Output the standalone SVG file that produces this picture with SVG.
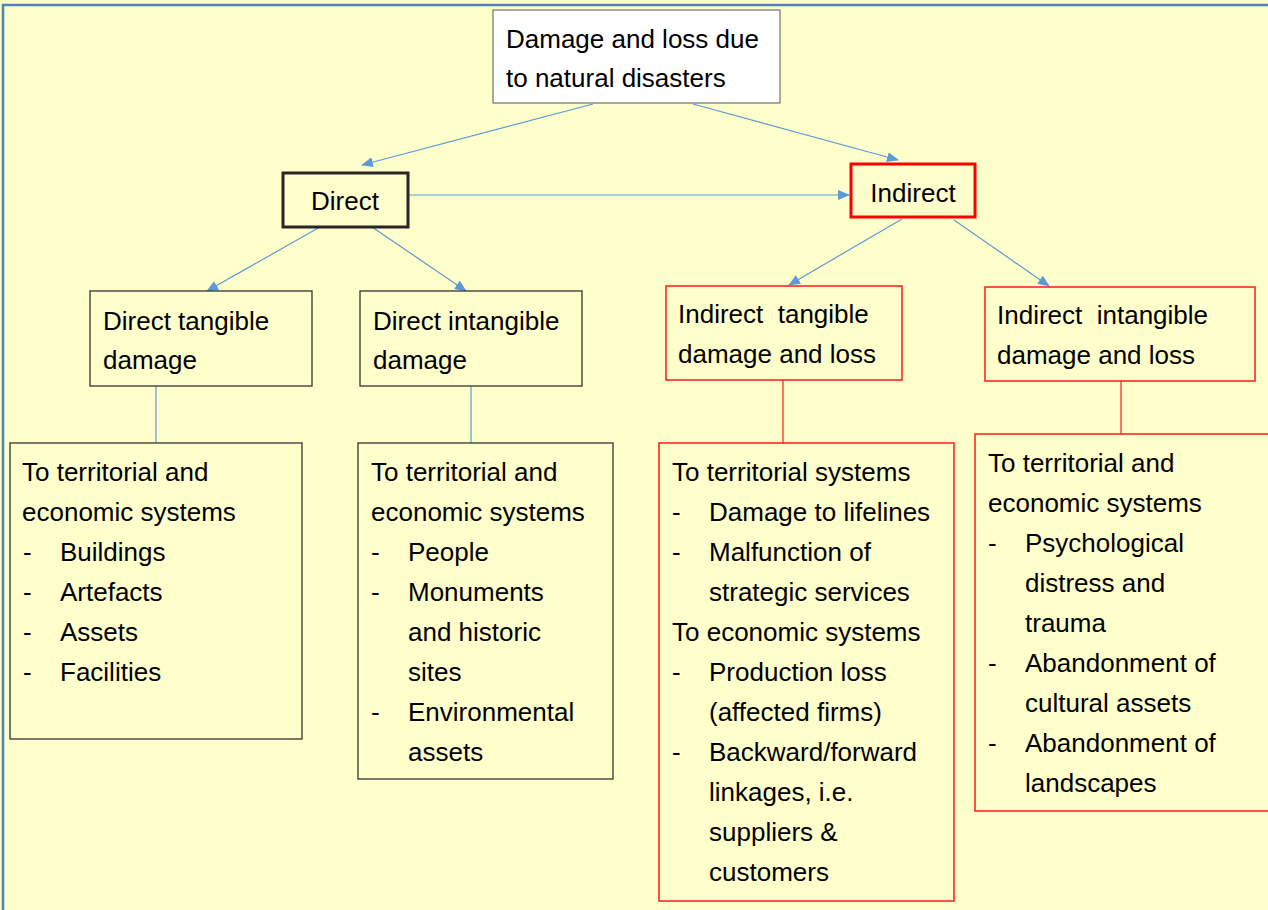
<svg xmlns="http://www.w3.org/2000/svg" width="1268" height="910" viewBox="0 0 1268 910">
  <defs>
    <marker id="arrow" markerUnits="userSpaceOnUse" markerWidth="12" markerHeight="10" refX="11" refY="5" orient="auto">
      <path d="M0,0 L12,5 L0,10 Z" fill="#5B9BD5"/>
    </marker>
    <style>
      .t { font-family: "Liberation Sans", Arial, sans-serif; font-size: 26px; fill: #000; }
      .c { text-anchor: middle; }
      .box { fill: #FFFFCC; stroke: #333333; stroke-width: 1.3; }
      .rbox { fill: #FFFFCC; stroke: #FF1A1A; stroke-width: 1.5; }
      .link { fill: none; stroke: #5B9BD5; stroke-width: 1.2; }
      .arrow { fill: none; stroke: #5B9BD5; stroke-width: 1.2; marker-end: url(#arrow); }
      .rlink { fill: none; stroke: #FF1A1A; stroke-width: 1.2; }
    </style>
  </defs>

  <!-- page background with frame -->
  <rect x="0" y="0" width="1268" height="910" fill="#FFFFCC"/>
  <rect x="3" y="5" width="1300" height="1000" fill="none" stroke="#4F81BD" stroke-width="2.5"/>

  <!-- connectors -->
  <g id="connectors">
    <line class="arrow" x1="593" y1="104" x2="362" y2="165"/>
    <line class="arrow" x1="693" y1="104" x2="898" y2="160"/>
    <line class="arrow" x1="408" y1="195" x2="849" y2="195"/>
    <line class="arrow" x1="320" y1="227" x2="207" y2="291"/>
    <line class="arrow" x1="372" y1="227" x2="466" y2="291"/>
    <line class="arrow" x1="902" y1="219" x2="789" y2="285"/>
    <line class="arrow" x1="954" y1="220" x2="1049" y2="286"/>
    <line class="link" x1="156" y1="386" x2="156" y2="443"/>
    <line class="link" x1="471" y1="386" x2="471" y2="443"/>
    <line class="rlink" x1="783" y1="380" x2="783" y2="443"/>
    <line class="rlink" x1="1121" y1="381" x2="1121" y2="434"/>
  </g>

  <!-- root -->
  <g id="root">
    <rect x="493" y="10" width="287" height="93" fill="#FFFFFF" stroke="#555555" stroke-width="1"/>
    <text class="t" x="506" y="48">Damage and loss due</text>
    <text class="t" x="506" y="87">to natural disasters</text>
  </g>

  <!-- level 1 -->
  <g id="direct">
    <rect x="283" y="173" width="125" height="54" fill="#FFFFCC" stroke="#262626" stroke-width="3"/>
    <text class="t c" x="345" y="210">Direct</text>
  </g>
  <g id="indirect">
    <rect x="851" y="164" width="124" height="53" fill="#FFFFCC" stroke="#FF0000" stroke-width="3"/>
    <text class="t c" x="913" y="202">Indirect</text>
  </g>

  <!-- level 2 -->
  <g id="direct-tangible">
    <rect class="box" x="90" y="291" width="222" height="95"/>
    <text class="t" x="103" y="330">Direct tangible</text>
    <text class="t" x="103" y="369">damage</text>
  </g>
  <g id="direct-intangible">
    <rect class="box" x="360" y="291" width="222" height="95"/>
    <text class="t" x="373" y="330">Direct intangible</text>
    <text class="t" x="373" y="369">damage</text>
  </g>
  <g id="indirect-tangible">
    <rect class="rbox" x="666" y="286" width="236" height="94"/>
    <text class="t" x="678" y="323" xml:space="preserve">Indirect  tangible</text>
    <text class="t" x="678" y="363">damage and loss</text>
  </g>
  <g id="indirect-intangible">
    <rect class="rbox" x="985" y="287" width="270" height="94"/>
    <text class="t" x="997" y="324" xml:space="preserve">Indirect  intangible</text>
    <text class="t" x="997" y="364">damage and loss</text>
  </g>

  <!-- level 3 -->
  <g id="direct-tangible-items">
    <rect class="box" x="10" y="443" width="292" height="296"/>
    <text class="t" x="22" y="481">To territorial and</text>
    <text class="t" x="22" y="521">economic systems</text>
    <text class="t" x="23" y="561">-</text><text class="t" x="60" y="561">Buildings</text>
    <text class="t" x="23" y="601">-</text><text class="t" x="60" y="601">Artefacts</text>
    <text class="t" x="23" y="641">-</text><text class="t" x="60" y="641">Assets</text>
    <text class="t" x="23" y="681">-</text><text class="t" x="60" y="681">Facilities</text>
  </g>
  <g id="direct-intangible-items">
    <rect class="box" x="358" y="443" width="255" height="336"/>
    <text class="t" x="371" y="481">To territorial and</text>
    <text class="t" x="371" y="521">economic systems</text>
    <text class="t" x="371" y="561">-</text><text class="t" x="408" y="561">People</text>
    <text class="t" x="371" y="601">-</text><text class="t" x="408" y="601">Monuments</text>
    <text class="t" x="408" y="641">and historic</text>
    <text class="t" x="408" y="681">sites</text>
    <text class="t" x="371" y="721">-</text><text class="t" x="408" y="721">Environmental</text>
    <text class="t" x="408" y="761">assets</text>
  </g>
  <g id="indirect-tangible-items">
    <rect class="rbox" x="659" y="443" width="295" height="458"/>
    <text class="t" x="672" y="481">To territorial systems</text>
    <text class="t" x="672" y="521">-</text><text class="t" x="709" y="521">Damage to lifelines</text>
    <text class="t" x="672" y="561">-</text><text class="t" x="709" y="561">Malfunction of</text>
    <text class="t" x="709" y="601">strategic services</text>
    <text class="t" x="672" y="641">To economic systems</text>
    <text class="t" x="672" y="681">-</text><text class="t" x="709" y="681">Production loss</text>
    <text class="t" x="709" y="721">(affected firms)</text>
    <text class="t" x="672" y="761">-</text><text class="t" x="709" y="761">Backward/forward</text>
    <text class="t" x="709" y="801">linkages, i.e.</text>
    <text class="t" x="709" y="841">suppliers &amp;</text>
    <text class="t" x="709" y="881">customers</text>
  </g>
  <g id="indirect-intangible-items">
    <rect class="rbox" x="975" y="434" width="320" height="377"/>
    <text class="t" x="988" y="472">To territorial and</text>
    <text class="t" x="988" y="512">economic systems</text>
    <text class="t" x="988" y="552">-</text><text class="t" x="1025" y="552">Psychological</text>
    <text class="t" x="1025" y="592">distress and</text>
    <text class="t" x="1025" y="632">trauma</text>
    <text class="t" x="988" y="672">-</text><text class="t" x="1025" y="672">Abandonment of</text>
    <text class="t" x="1025" y="712">cultural assets</text>
    <text class="t" x="988" y="752">-</text><text class="t" x="1025" y="752">Abandonment of</text>
    <text class="t" x="1025" y="792">landscapes</text>
  </g>
</svg>
